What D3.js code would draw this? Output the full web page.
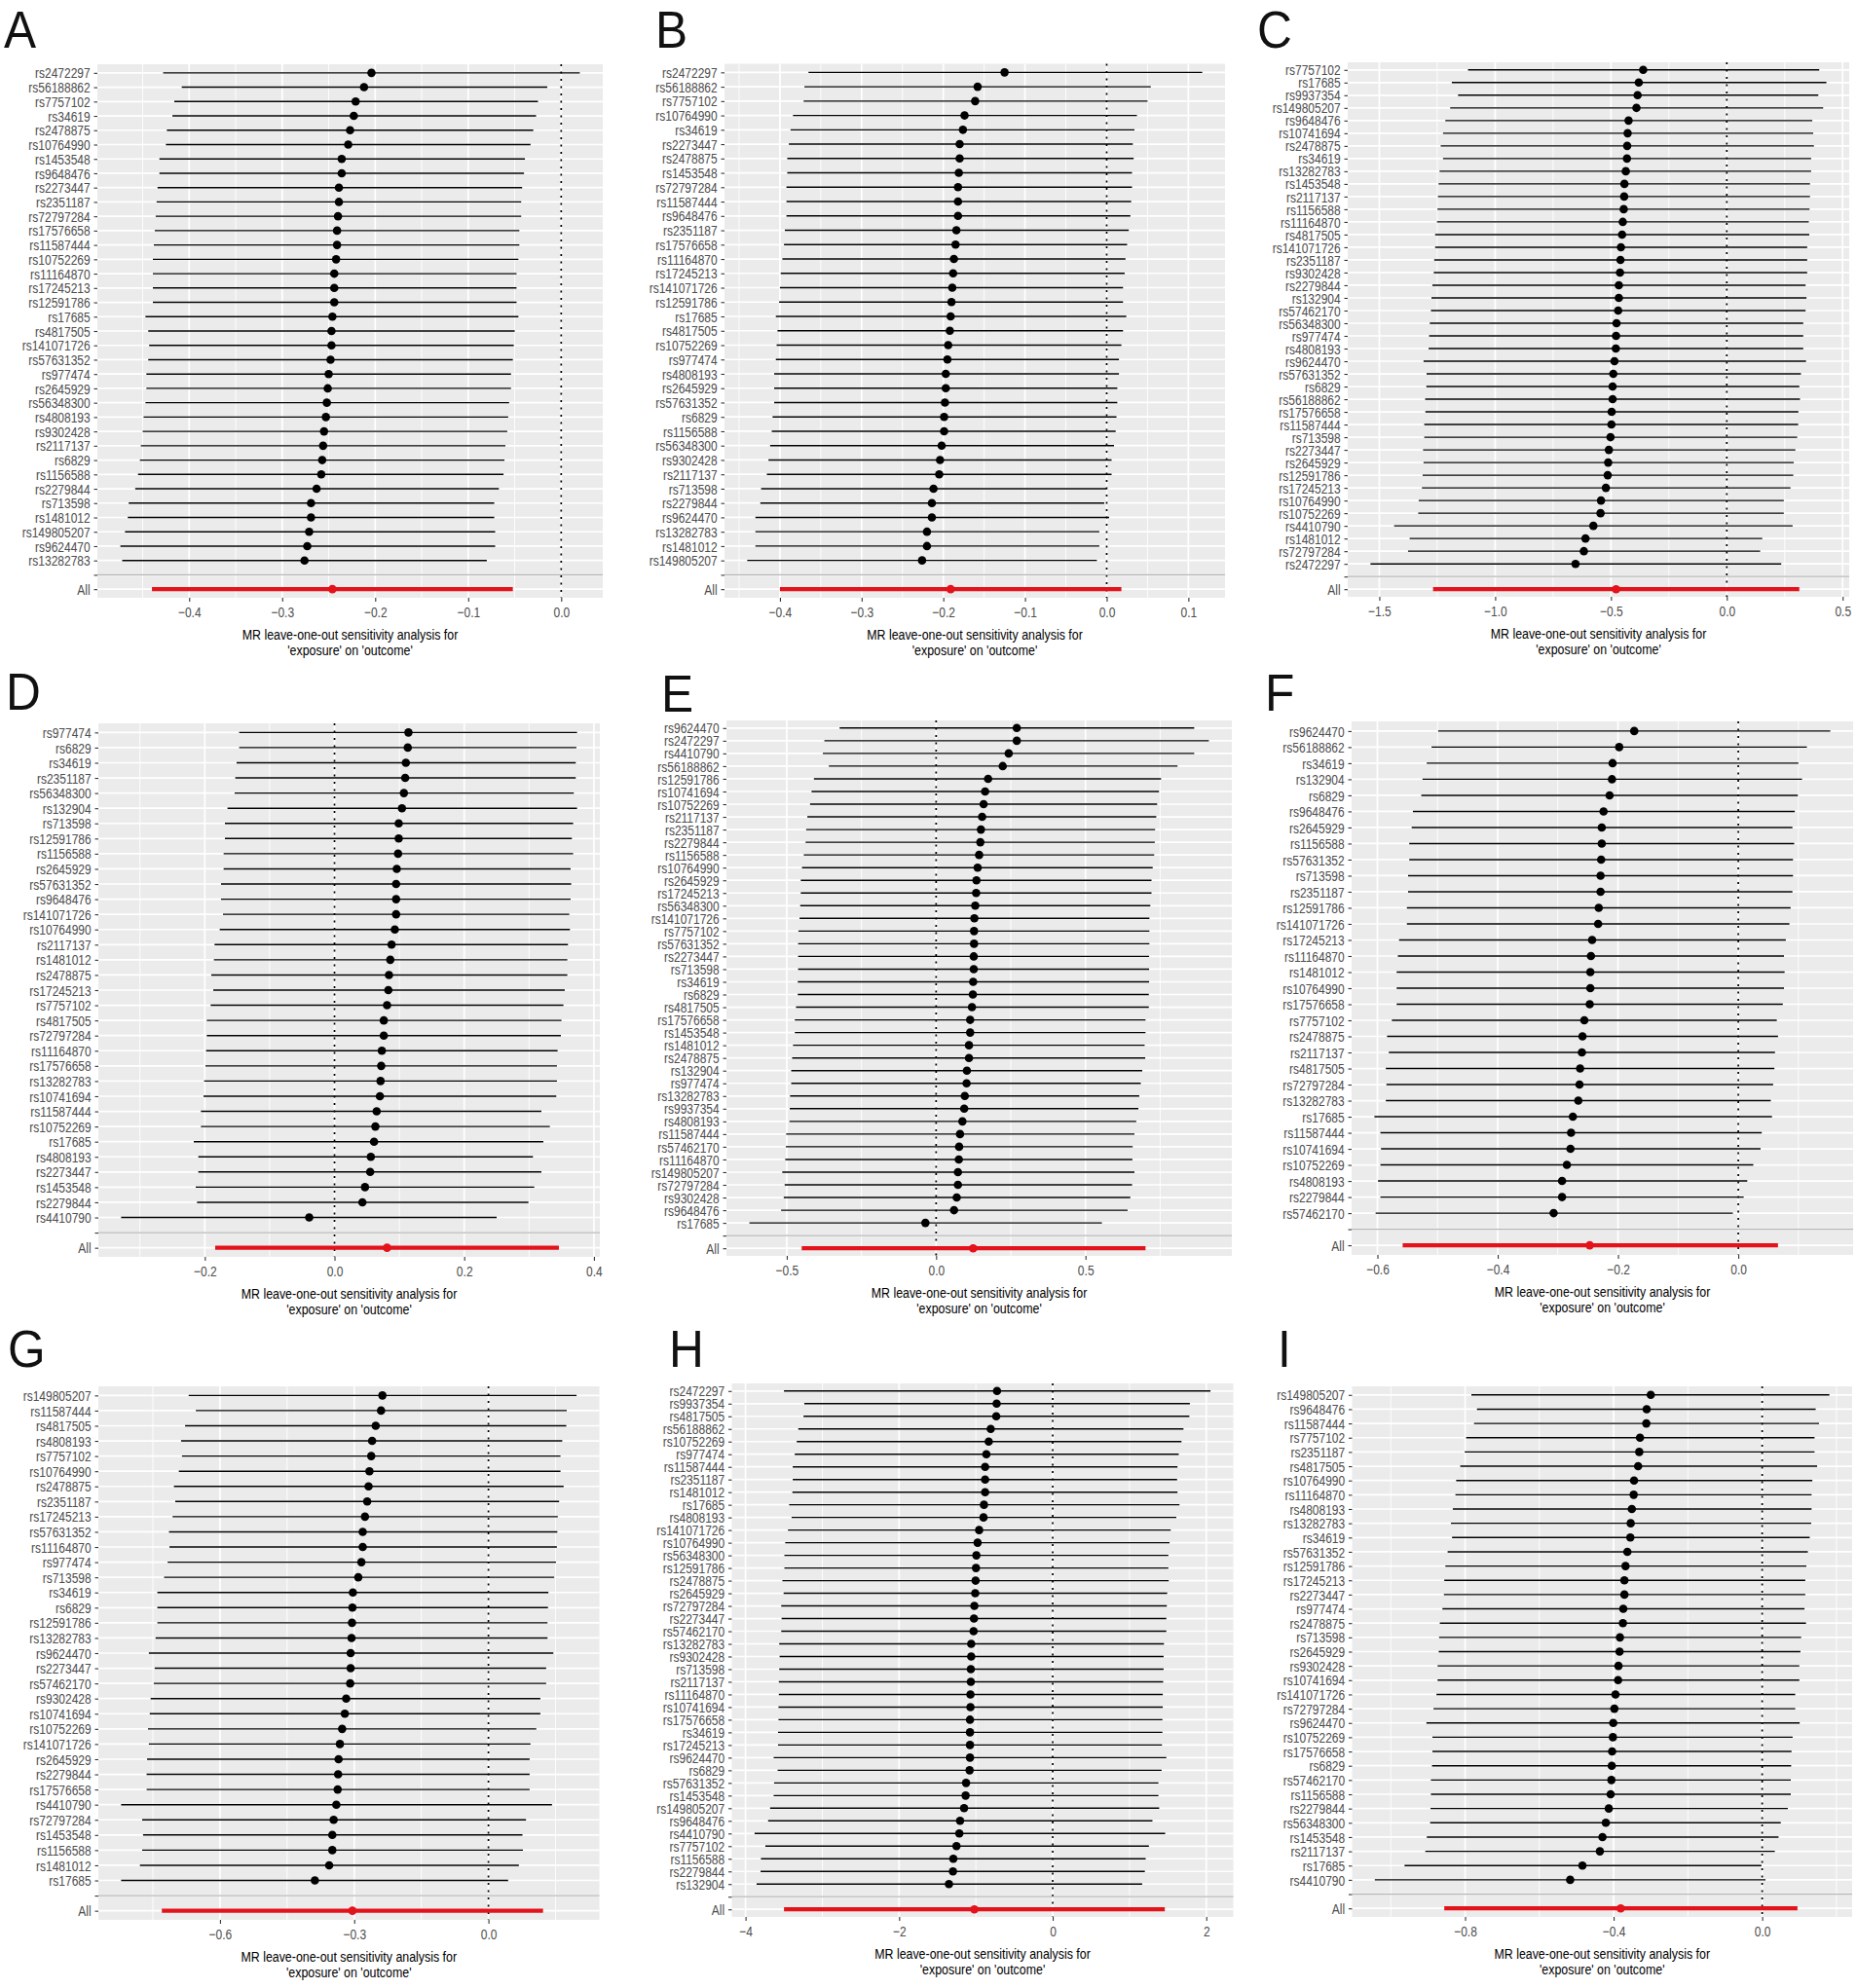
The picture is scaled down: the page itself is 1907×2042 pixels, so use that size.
<!DOCTYPE html>
<html>
<head>
<meta charset="utf-8">
<script src="https://cdn.jsdelivr.net/npm/d3@7"></script>
<style>
body { margin: 0; background: #fff; }
text { font-family: "Liberation Sans", Arial, sans-serif; }
</style>
</head>
<body>
<svg id="fig" width="1907" height="2042"></svg>
<script>
// Leave-one-out estimates per panel: SNP left out, beta, lower and upper CI; "all" = [beta, lo, hi]
const snpsA = ["rs2472297","rs56188862","rs7757102","rs34619","rs2478875","rs10764990","rs1453548","rs9648476","rs2273447","rs2351187","rs72797284","rs17576658","rs11587444","rs10752269","rs11164870","rs17245213","rs12591786","rs17685","rs4817505","rs141071726","rs57631352","rs977474","rs2645929","rs56348300","rs4808193","rs9302428","rs2117137","rs6829","rs1156588","rs2279844","rs713598","rs1481012","rs149805207","rs9624470","rs13282783"];
const betaA = [-0.204,-0.212,-0.221,-0.223,-0.227,-0.229,-0.236,-0.236,-0.239,-0.239,-0.240,-0.241,-0.241,-0.242,-0.244,-0.244,-0.244,-0.246,-0.247,-0.247,-0.248,-0.250,-0.251,-0.252,-0.253,-0.255,-0.256,-0.257,-0.258,-0.263,-0.269,-0.269,-0.271,-0.273,-0.276];
const loA = [-0.428,-0.408,-0.416,-0.418,-0.424,-0.425,-0.432,-0.432,-0.434,-0.435,-0.436,-0.437,-0.438,-0.439,-0.439,-0.439,-0.439,-0.447,-0.444,-0.443,-0.444,-0.446,-0.446,-0.447,-0.449,-0.450,-0.452,-0.453,-0.455,-0.458,-0.465,-0.466,-0.469,-0.474,-0.472];
const hiA = [0.020,-0.015,-0.025,-0.027,-0.030,-0.033,-0.039,-0.040,-0.042,-0.043,-0.043,-0.045,-0.045,-0.046,-0.048,-0.048,-0.048,-0.046,-0.050,-0.051,-0.052,-0.054,-0.054,-0.056,-0.057,-0.058,-0.060,-0.061,-0.062,-0.067,-0.072,-0.072,-0.071,-0.071,-0.080];
const allA = [-0.246,-0.440,-0.052];
const ticksA = [-0.4,-0.3,-0.2,-0.1,0.0];

const snpsB = ["rs2472297","rs56188862","rs7757102","rs10764990","rs34619","rs2273447","rs2478875","rs1453548","rs72797284","rs11587444","rs9648476","rs2351187","rs17576658","rs11164870","rs17245213","rs141071726","rs12591786","rs17685","rs4817505","rs10752269","rs977474","rs4808193","rs2645929","rs57631352","rs6829","rs1156588","rs56348300","rs9302428","rs2117137","rs713598","rs2279844","rs9624470","rs13282783","rs1481012","rs149805207"];
const betaB = [-0.125,-0.158,-0.161,-0.174,-0.176,-0.180,-0.180,-0.181,-0.182,-0.182,-0.182,-0.184,-0.185,-0.187,-0.188,-0.189,-0.190,-0.191,-0.192,-0.194,-0.195,-0.197,-0.197,-0.198,-0.199,-0.199,-0.202,-0.204,-0.205,-0.212,-0.214,-0.214,-0.220,-0.220,-0.226];
const loB = [-0.365,-0.370,-0.371,-0.384,-0.387,-0.389,-0.391,-0.391,-0.392,-0.392,-0.392,-0.394,-0.395,-0.397,-0.399,-0.400,-0.401,-0.405,-0.403,-0.404,-0.405,-0.407,-0.407,-0.407,-0.409,-0.410,-0.412,-0.414,-0.416,-0.423,-0.424,-0.430,-0.430,-0.430,-0.440];
const hiB = [0.117,0.054,0.050,0.037,0.034,0.032,0.033,0.031,0.031,0.030,0.029,0.027,0.025,0.023,0.022,0.020,0.020,0.024,0.020,0.018,0.015,0.015,0.013,0.013,0.012,0.011,0.009,0.006,0.006,0.000,-0.003,0.003,-0.009,-0.009,-0.012];
const allB = [-0.191,-0.400,0.018];
const ticksB = [-0.4,-0.3,-0.2,-0.1,0.0,0.1];

const snpsC = ["rs7757102","rs17685","rs9937354","rs149805207","rs9648476","rs10741694","rs2478875","rs34619","rs13282783","rs1453548","rs2117137","rs1156588","rs11164870","rs4817505","rs141071726","rs2351187","rs9302428","rs2279844","rs132904","rs57462170","rs56348300","rs977474","rs4808193","rs9624470","rs57631352","rs6829","rs56188862","rs17576658","rs11587444","rs713598","rs2273447","rs2645929","rs12591786","rs17245213","rs10764990","rs10752269","rs4410790","rs1481012","rs72797284","rs2472297"];
const betaC = [-0.361,-0.380,-0.385,-0.390,-0.424,-0.428,-0.430,-0.431,-0.436,-0.442,-0.443,-0.445,-0.449,-0.452,-0.457,-0.459,-0.461,-0.466,-0.466,-0.469,-0.476,-0.478,-0.479,-0.485,-0.490,-0.493,-0.493,-0.497,-0.498,-0.502,-0.509,-0.512,-0.514,-0.522,-0.543,-0.545,-0.576,-0.610,-0.617,-0.653];
const loC = [-1.117,-1.187,-1.160,-1.194,-1.215,-1.225,-1.235,-1.225,-1.240,-1.244,-1.247,-1.249,-1.251,-1.259,-1.259,-1.263,-1.265,-1.271,-1.275,-1.277,-1.282,-1.285,-1.287,-1.309,-1.296,-1.297,-1.302,-1.301,-1.306,-1.306,-1.311,-1.309,-1.313,-1.316,-1.330,-1.332,-1.436,-1.369,-1.376,-1.538];
const hiC = [0.399,0.430,0.395,0.416,0.369,0.373,0.376,0.364,0.364,0.359,0.359,0.357,0.354,0.356,0.347,0.347,0.347,0.340,0.344,0.340,0.330,0.330,0.330,0.342,0.320,0.313,0.316,0.309,0.308,0.304,0.296,0.289,0.287,0.275,0.246,0.246,0.284,0.153,0.144,0.235];
const allC = [-0.478,-1.268,0.313];
const ticksC = [-1.5,-1.0,-0.5,0.0,0.5];

const snpsD = ["rs977474","rs6829","rs34619","rs2351187","rs56348300","rs132904","rs713598","rs12591786","rs1156588","rs2645929","rs57631352","rs9648476","rs141071726","rs10764990","rs2117137","rs1481012","rs2478875","rs17245213","rs7757102","rs4817505","rs72797284","rs11164870","rs17576658","rs13282783","rs10741694","rs11587444","rs10752269","rs17685","rs4808193","rs2273447","rs1453548","rs2279844","rs4410790"];
const betaD = [0.114,0.113,0.110,0.109,0.107,0.104,0.099,0.099,0.098,0.096,0.095,0.095,0.095,0.093,0.088,0.086,0.084,0.083,0.081,0.076,0.076,0.073,0.072,0.071,0.070,0.065,0.063,0.061,0.056,0.055,0.047,0.043,-0.039];
const loD = [-0.147,-0.147,-0.151,-0.153,-0.154,-0.165,-0.169,-0.169,-0.171,-0.171,-0.175,-0.175,-0.172,-0.177,-0.185,-0.186,-0.190,-0.187,-0.191,-0.197,-0.197,-0.198,-0.199,-0.201,-0.202,-0.206,-0.206,-0.217,-0.210,-0.210,-0.214,-0.212,-0.329];
const hiD = [0.374,0.373,0.372,0.372,0.369,0.374,0.368,0.366,0.368,0.364,0.365,0.364,0.362,0.363,0.360,0.359,0.359,0.355,0.353,0.350,0.349,0.344,0.343,0.343,0.342,0.319,0.332,0.322,0.306,0.319,0.308,0.299,0.250];
const allD = [0.081,-0.184,0.346];
const ticksD = [-0.2,0.0,0.2,0.4];

const snpsE = ["rs9624470","rs2472297","rs4410790","rs56188862","rs12591786","rs10741694","rs10752269","rs2117137","rs2351187","rs2279844","rs1156588","rs10764990","rs2645929","rs17245213","rs56348300","rs141071726","rs7757102","rs57631352","rs2273447","rs713598","rs34619","rs6829","rs4817505","rs17576658","rs1453548","rs1481012","rs2478875","rs132904","rs977474","rs13282783","rs9937354","rs4808193","rs11587444","rs57462170","rs11164870","rs149805207","rs72797284","rs9302428","rs9648476","rs17685"];
const betaE = [0.270,0.270,0.243,0.223,0.174,0.164,0.159,0.154,0.150,0.148,0.144,0.139,0.135,0.134,0.131,0.128,0.127,0.127,0.126,0.126,0.124,0.123,0.120,0.114,0.114,0.110,0.110,0.103,0.102,0.096,0.094,0.088,0.080,0.077,0.076,0.073,0.073,0.069,0.060,-0.036];
const loE = [-0.323,-0.374,-0.379,-0.359,-0.409,-0.417,-0.422,-0.431,-0.435,-0.437,-0.443,-0.449,-0.453,-0.453,-0.455,-0.457,-0.461,-0.462,-0.462,-0.462,-0.463,-0.463,-0.469,-0.473,-0.473,-0.479,-0.482,-0.485,-0.485,-0.489,-0.490,-0.491,-0.502,-0.503,-0.505,-0.515,-0.507,-0.510,-0.519,-0.625];
const hiE = [0.864,0.913,0.864,0.808,0.753,0.746,0.740,0.737,0.733,0.732,0.730,0.725,0.721,0.721,0.717,0.714,0.714,0.714,0.713,0.713,0.713,0.712,0.712,0.701,0.701,0.698,0.700,0.690,0.685,0.680,0.677,0.670,0.664,0.658,0.657,0.664,0.656,0.650,0.641,0.555];
const allE = [0.124,-0.450,0.701];
const ticksE = [-0.5,0.0,0.5];

const snpsF = ["rs9624470","rs56188862","rs34619","rs132904","rs6829","rs9648476","rs2645929","rs1156588","rs57631352","rs713598","rs2351187","rs12591786","rs141071726","rs17245213","rs11164870","rs1481012","rs10764990","rs17576658","rs7757102","rs2478875","rs2117137","rs4817505","rs72797284","rs13282783","rs17685","rs11587444","rs10741694","rs10752269","rs4808193","rs2279844","rs57462170"];
const betaF = [-0.173,-0.198,-0.209,-0.210,-0.214,-0.224,-0.227,-0.227,-0.228,-0.229,-0.229,-0.232,-0.233,-0.243,-0.245,-0.246,-0.246,-0.247,-0.256,-0.259,-0.260,-0.263,-0.264,-0.266,-0.275,-0.278,-0.279,-0.285,-0.293,-0.293,-0.307];
const loF = [-0.499,-0.510,-0.518,-0.525,-0.527,-0.541,-0.543,-0.547,-0.547,-0.549,-0.549,-0.551,-0.551,-0.564,-0.566,-0.568,-0.568,-0.568,-0.576,-0.584,-0.581,-0.586,-0.585,-0.586,-0.605,-0.595,-0.594,-0.595,-0.599,-0.595,-0.603];
const hiF = [0.153,0.114,0.100,0.106,0.099,0.094,0.090,0.093,0.091,0.091,0.090,0.087,0.085,0.079,0.076,0.077,0.076,0.074,0.064,0.066,0.061,0.060,0.058,0.054,0.056,0.039,0.037,0.025,0.015,0.009,-0.009];
const allF = [-0.247,-0.558,0.066];
const ticksF = [-0.6,-0.4,-0.2,0.0];

const snpsG = ["rs149805207","rs11587444","rs4817505","rs4808193","rs7757102","rs10764990","rs2478875","rs2351187","rs17245213","rs57631352","rs11164870","rs977474","rs713598","rs34619","rs6829","rs12591786","rs13282783","rs9624470","rs2273447","rs57462170","rs9302428","rs10741694","rs10752269","rs141071726","rs2645929","rs2279844","rs17576658","rs4410790","rs72797284","rs1453548","rs1156588","rs1481012","rs17685"];
const betaG = [-0.237,-0.240,-0.252,-0.260,-0.262,-0.266,-0.268,-0.271,-0.276,-0.281,-0.281,-0.284,-0.291,-0.303,-0.304,-0.305,-0.306,-0.308,-0.308,-0.309,-0.318,-0.321,-0.327,-0.332,-0.335,-0.336,-0.337,-0.340,-0.346,-0.349,-0.349,-0.356,-0.388];
const loG = [-0.670,-0.654,-0.678,-0.687,-0.685,-0.692,-0.703,-0.700,-0.706,-0.714,-0.713,-0.717,-0.725,-0.740,-0.740,-0.740,-0.744,-0.759,-0.746,-0.748,-0.755,-0.757,-0.761,-0.759,-0.763,-0.764,-0.764,-0.821,-0.774,-0.772,-0.774,-0.779,-0.821];
const hiG = [0.197,0.175,0.174,0.165,0.161,0.161,0.168,0.158,0.155,0.154,0.153,0.151,0.147,0.134,0.133,0.132,0.132,0.145,0.129,0.129,0.116,0.116,0.107,0.094,0.092,0.092,0.092,0.142,0.084,0.076,0.077,0.068,0.044];
const allG = [-0.304,-0.730,0.122];
const ticksG = [-0.6,-0.3,0.0];

const snpsH = ["rs2472297","rs9937354","rs4817505","rs56188862","rs10752269","rs977474","rs11587444","rs2351187","rs1481012","rs17685","rs4808193","rs141071726","rs10764990","rs56348300","rs12591786","rs2478875","rs2645929","rs72797284","rs2273447","rs57462170","rs13282783","rs9302428","rs713598","rs2117137","rs11164870","rs10741694","rs17576658","rs34619","rs17245213","rs9624470","rs6829","rs57631352","rs1453548","rs149805207","rs9648476","rs4410790","rs7757102","rs1156588","rs2279844","rs132904"];
const betaH = [-0.725,-0.730,-0.735,-0.807,-0.833,-0.864,-0.880,-0.880,-0.880,-0.895,-0.901,-0.958,-0.978,-0.994,-0.999,-1.004,-1.009,-1.020,-1.025,-1.030,-1.061,-1.061,-1.066,-1.066,-1.071,-1.071,-1.077,-1.077,-1.077,-1.077,-1.082,-1.128,-1.134,-1.154,-1.206,-1.216,-1.253,-1.294,-1.299,-1.351];
const loH = [-3.499,-3.235,-3.245,-3.313,-3.333,-3.359,-3.385,-3.385,-3.390,-3.432,-3.400,-3.447,-3.483,-3.494,-3.494,-3.520,-3.504,-3.535,-3.530,-3.535,-3.561,-3.556,-3.561,-3.566,-3.566,-3.571,-3.571,-3.577,-3.577,-3.634,-3.582,-3.628,-3.634,-3.680,-3.706,-3.882,-3.742,-3.799,-3.804,-3.856];
const hiH = [2.055,1.786,1.780,1.703,1.677,1.641,1.625,1.620,1.625,1.651,1.610,1.537,1.522,1.506,1.506,1.511,1.491,1.486,1.480,1.480,1.449,1.444,1.444,1.439,1.434,1.434,1.429,1.429,1.423,1.480,1.418,1.377,1.377,1.387,1.299,1.465,1.253,1.211,1.200,1.165];
const allH = [-1.020,-3.499,1.460];
const ticksH = [-4,-2,0,2];

const snpsI = ["rs149805207","rs9648476","rs11587444","rs7757102","rs2351187","rs4817505","rs10764990","rs11164870","rs4808193","rs13282783","rs34619","rs57631352","rs12591786","rs17245213","rs2273447","rs977474","rs2478875","rs713598","rs2645929","rs9302428","rs10741694","rs141071726","rs72797284","rs9624470","rs10752269","rs17576658","rs6829","rs57462170","rs1156588","rs2279844","rs56348300","rs1453548","rs2117137","rs17685","rs4410790"];
const betaI = [-0.300,-0.311,-0.312,-0.329,-0.331,-0.334,-0.345,-0.346,-0.351,-0.354,-0.355,-0.363,-0.368,-0.371,-0.371,-0.374,-0.375,-0.383,-0.384,-0.387,-0.388,-0.395,-0.398,-0.401,-0.402,-0.404,-0.405,-0.406,-0.408,-0.413,-0.421,-0.430,-0.437,-0.484,-0.517];
const loI = [-0.783,-0.768,-0.776,-0.797,-0.801,-0.813,-0.824,-0.826,-0.833,-0.838,-0.835,-0.847,-0.853,-0.856,-0.857,-0.861,-0.868,-0.870,-0.871,-0.874,-0.874,-0.877,-0.885,-0.904,-0.888,-0.888,-0.889,-0.892,-0.892,-0.893,-0.894,-0.903,-0.907,-0.963,-1.043];
const hiI = [0.181,0.144,0.153,0.141,0.141,0.148,0.135,0.133,0.133,0.132,0.128,0.123,0.119,0.116,0.116,0.114,0.118,0.105,0.103,0.100,0.100,0.089,0.089,0.101,0.082,0.079,0.078,0.077,0.077,0.069,0.050,0.044,0.034,-0.002,0.009];
const allI = [-0.381,-0.856,0.095];
const ticksI = [-0.8,-0.4,0.0];

const panels = [
    { key: "A", snps: snpsA, beta: betaA, lo: loA, hi: hiA, all: allA, ticks: ticksA },
    { key: "B", snps: snpsB, beta: betaB, lo: loB, hi: hiB, all: allB, ticks: ticksB },
    { key: "C", snps: snpsC, beta: betaC, lo: loC, hi: hiC, all: allC, ticks: ticksC },
    { key: "D", snps: snpsD, beta: betaD, lo: loD, hi: hiD, all: allD, ticks: ticksD },
    { key: "E", snps: snpsE, beta: betaE, lo: loE, hi: hiE, all: allE, ticks: ticksE },
    { key: "F", snps: snpsF, beta: betaF, lo: loF, hi: hiF, all: allF, ticks: ticksF },
    { key: "G", snps: snpsG, beta: betaG, lo: loG, hi: hiG, all: allG, ticks: ticksG },
    { key: "H", snps: snpsH, beta: betaH, lo: loH, hi: hiH, all: allH, ticks: ticksH },
    { key: "I", snps: snpsI, beta: betaI, lo: loI, hi: hiI, all: allI, ticks: ticksI }
];

// grey plot area of each panel on the page: x0, x1, y0, y1
const boxes = {
    A: [100, 619, 66, 614],   B: [744, 1258, 65.5, 614],  C: [1384, 1899, 64, 613],
    D: [101, 616, 743, 1291], E: [746, 1265, 740, 1290],  F: [1388, 1903, 741, 1289],
    G: [101, 615.5, 1424, 1972], H: [751.5, 1266.5, 1421, 1969], I: [1388.5, 1902, 1424, 1969]
};
// panel letters: x, baseline
const letters = {
    A: [4, 49], B: [673, 49], C: [1291, 49],
    D: [6, 729], E: [679, 731], F: [1299, 730],
    G: [8, 1404], H: [687, 1404], I: [1312, 1404]
};

const squeeze = 0.8; // the whole figure is squashed sideways, text too
const svg = d3.select("#fig");
svg.append("rect").attr("width", 1907).attr("height", 2042).attr("fill", "#fff");

panels.forEach(drawPanel);

function drawPanel(p) {
    const [x0, x1, y0, y1] = boxes[p.key];
    const levels = p.snps.concat(["", "All"]);
    const rows = p.snps.map((s, i) => ({ snp: s, b: p.beta[i], lo: p.lo[i], hi: p.hi[i] }));
    const tot = { snp: "All", b: p.all[0], lo: p.all[1], hi: p.all[2] };

    // ggplot style: continuous axis expanded by 5%, discrete by 0.6 of a step
    const ext = d3.extent(p.lo.concat(p.hi, p.all, [0]));
    const pad = (ext[1] - ext[0]) * 0.05;
    const x = d3.scaleLinear().domain([ext[0] - pad, ext[1] + pad]).range([x0, x1]);
    const y = d3.scalePoint().domain(levels).range([y0, y1]).padding(0.6);

    const g = svg.append("g").attr("class", "panel-" + p.key);

    g.append("rect")
        .attr("x", x0).attr("y", y0)
        .attr("width", x1 - x0).attr("height", y1 - y0)
        .attr("fill", "#ebebeb");

    const step = p.ticks[1] - p.ticks[0];
    const minor = [p.ticks[0] - step / 2].concat(p.ticks.map(t => t + step / 2))
        .filter(v => v > x.domain()[0] && v < x.domain()[1]);

    g.selectAll(".minor").data(minor).enter().append("line")
        .attr("x1", d => x(d)).attr("x2", d => x(d))
        .attr("y1", y0).attr("y2", y1)
        .attr("stroke", "#fff").attr("stroke-width", 0.9);

    g.selectAll(".major").data(p.ticks).enter().append("line")
        .attr("x1", d => x(d)).attr("x2", d => x(d))
        .attr("y1", y0).attr("y2", y1)
        .attr("stroke", "#fff").attr("stroke-width", 1.7);

    g.selectAll(".hgrid").data(levels).enter().append("line")
        .attr("x1", x0).attr("x2", x1)
        .attr("y1", d => y(d)).attr("y2", d => y(d))
        .attr("stroke", "#fff").attr("stroke-width", 1.7);

    g.append("line")
        .attr("x1", x(0)).attr("x2", x(0))
        .attr("y1", y0).attr("y2", y1)
        .attr("stroke", "#000").attr("stroke-width", 1.7)
        .attr("stroke-dasharray", "2,5.5");

    g.selectAll(".ci").data(rows).enter().append("line")
        .attr("x1", d => x(d.lo)).attr("x2", d => x(d.hi))
        .attr("y1", d => y(d.snp)).attr("y2", d => y(d.snp))
        .attr("stroke", "#000").attr("stroke-width", 1.4);

    g.selectAll(".pt").data(rows).enter().append("circle")
        .attr("cx", d => x(d.b)).attr("cy", d => y(d.snp))
        .attr("r", 4.3).attr("fill", "#000");

    g.append("line")
        .attr("x1", x(tot.lo)).attr("x2", x(tot.hi))
        .attr("y1", y(tot.snp)).attr("y2", y(tot.snp))
        .attr("stroke", "#e3121b").attr("stroke-width", 4.2);

    g.append("circle")
        .attr("cx", x(tot.b)).attr("cy", y(tot.snp))
        .attr("r", 4.3).attr("fill", "#e3121b");

    // grey line that splits the single-SNP rows from "All"
    g.append("line")
        .attr("x1", x0).attr("x2", x1)
        .attr("y1", y("")).attr("y2", y(""))
        .attr("stroke", "#b5b5b5").attr("stroke-width", 1.3);

    // axes
    const fmt = p.key === "H" ? d3.format("d") : d3.format(".1f");
    const xAxis = g.append("g")
        .attr("transform", `translate(0,${y1})`)
        .call(d3.axisBottom(x).tickValues(p.ticks).tickFormat(fmt).tickSize(4).tickPadding(2));
    xAxis.select(".domain").remove();
    xAxis.selectAll("line").attr("stroke", "#333").attr("stroke-width", 1.1);
    xAxis.selectAll("text")
        .attr("y", null).attr("dy", null)
        .attr("transform", `translate(0,20) scale(${squeeze},1)`)
        .attr("fill", "#4d4d4d").attr("font-size", 15)
        .attr("font-family", "Liberation Sans, Arial, sans-serif");

    const yAxis = g.append("g")
        .attr("transform", `translate(${x0},0)`)
        .call(d3.axisLeft(y).tickSize(3.5).tickPadding(3.8));
    yAxis.select(".domain").remove();
    yAxis.selectAll("line").attr("stroke", "#333").attr("stroke-width", 1.1);
    yAxis.selectAll("text")
        .attr("x", null)
        .attr("dy", "0.34em")
        .attr("transform", `translate(-7.3,0) scale(${squeeze},1)`)
        .attr("fill", "#4d4d4d").attr("font-size", 15)
        .attr("font-family", "Liberation Sans, Arial, sans-serif");

    const cx = (x0 + x1) / 2;
    [["MR leave-one-out sensitivity analysis for", 43], ["'exposure' on 'outcome'", 59]].forEach(([t, dy]) => {
        g.append("text")
            .attr("transform", `translate(${cx},${y1 + dy}) scale(${squeeze},1)`)
            .attr("text-anchor", "middle")
            .attr("font-size", 15.5)
            .attr("fill", "#000")
            .text(t);
    });

    const [lx, ly] = letters[p.key];
    svg.append("text")
        .attr("transform", `translate(${lx},${ly}) scale(0.92,1)`)
        .attr("font-size", 54)
        .attr("fill", "#111")
        .text(p.key);
}
</script>
</body>
</html>
